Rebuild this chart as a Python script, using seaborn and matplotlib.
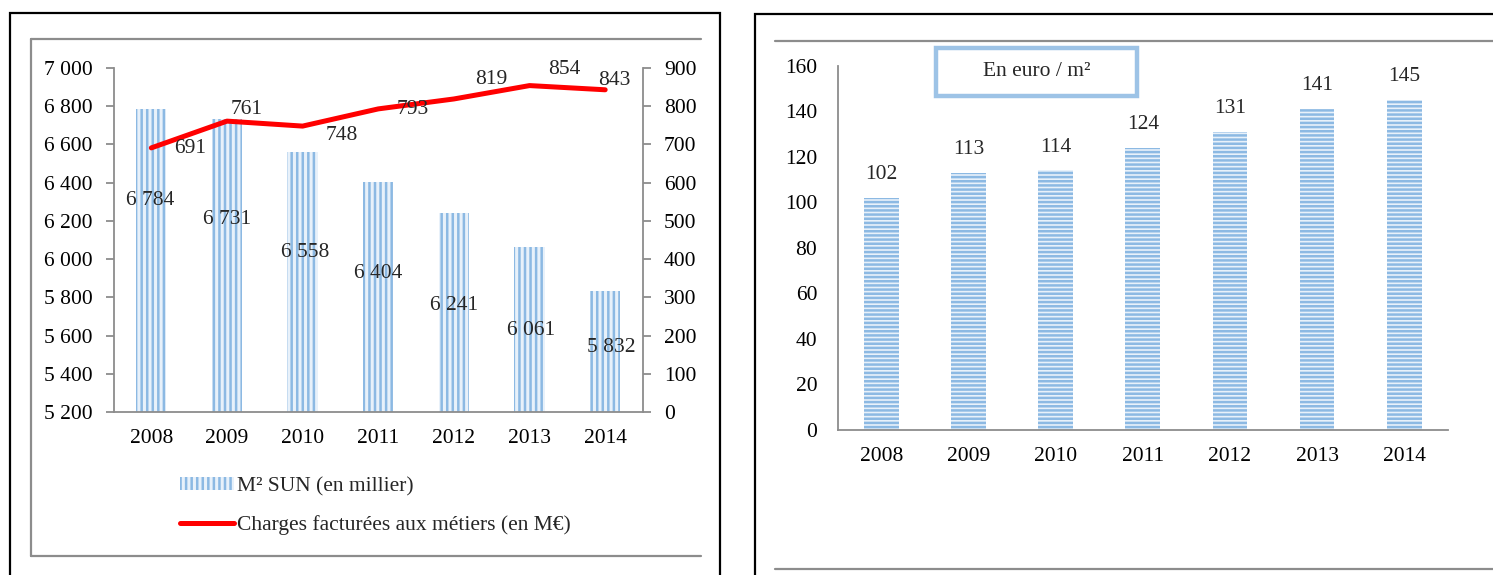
import numpy as np
import matplotlib
matplotlib.use("Agg")
import matplotlib.pyplot as plt
from matplotlib.lines import Line2D
from matplotlib.patches import Rectangle
import seaborn as sns

# ---- data ----
years = ["2008", "2009", "2010", "2011", "2012", "2013", "2014"]
surface_k_m2 = [6784, 6731, 6558, 6404, 6241, 6061, 5832]      # M² SUN (en millier)
charges_meur = [691, 761, 748, 793, 819, 854, 843]             # Charges facturées (en M€)
cost_per_m2 = [102, 113, 114, 124, 131, 141, 145]              # En euro / m²

left_ticks = [5200, 5400, 5600, 5800, 6000, 6200, 6400, 6600, 6800, 7000]
right_ticks = [0, 100, 200, 300, 400, 500, 600, 700, 800, 900]
cost_ticks = [0, 20, 40, 60, 80, 100, 120, 140, 160]

# label placement (pixel offsets from each mark)
bar_label_offsets = [(-1, -91), (0, -100), (3, -100), (0, -92), (0, -92), (2, -83), (6, -56)]
line_label_offsets = [(39, -1), (20, 12), (39, -9), (34, -1), (37, 19), (35, 16), (9, 9)]

W, H = 1493, 575
STRIPE = "#8CB9E3"
FACE = "#E8F1FA"
BOX = "#9DC3E6"
SPINE = "#8C8C8C"
FS = 15.5

sns.set_style("white")
plt.rcParams["font.family"] = ["Liberation Serif", "DejaVu Serif"]
plt.rcParams["hatch.linewidth"] = 1.8
plt.rcParams["hatch.color"] = STRIPE


def fx(px):
    return px / W


def fy(py):
    return 1 - py / H


def fmt_fr(v):
    return f"{v:,}".replace(",", " ")


fig = plt.figure(figsize=(W / 100, H / 100), dpi=100)

# ---- panel frames ----
fig.add_artist(Rectangle((fx(10), fy(590)), fx(720) - fx(10), fy(13) - fy(590),
                         transform=fig.transFigure, fill=False, ec="black", lw=1.6))
fig.add_artist(Line2D([fx(31), fx(31)], [fy(39), fy(556)], transform=fig.transFigure, color=SPINE, lw=1.6))
fig.add_artist(Line2D([fx(31), fx(701)], [fy(39), fy(39)], transform=fig.transFigure, color=SPINE, lw=1.6))
fig.add_artist(Line2D([fx(31), fx(701)], [fy(556), fy(556)], transform=fig.transFigure, color=SPINE, lw=1.6))

fig.add_artist(Rectangle((fx(755), fy(590)), fx(1510) - fx(755), fy(14) - fy(590),
                         transform=fig.transFigure, fill=False, ec="black", lw=1.6))
fig.add_artist(Line2D([fx(775), fx(1493)], [fy(41), fy(41)], transform=fig.transFigure, color=SPINE, lw=1.6))
fig.add_artist(Line2D([fx(775), fx(1493)], [fy(569), fy(569)], transform=fig.transFigure, color=SPINE, lw=1.6))


def style_axis(ax):
    for s in ax.spines.values():
        s.set_color(SPINE)
        s.set_linewidth(1.3)
    ax.set_xlim(-0.5, len(years) - 0.5)
    ax.set_xticks(range(len(years)))
    ax.set_xticklabels(years)
    ax.set_xticks(np.arange(-0.5, len(years), 1.0), minor=True)
    ax.tick_params(axis="x", which="major", length=0, pad=12, labelsize=FS, colors="black")
    ax.tick_params(axis="x", which="minor", length=6, width=1.3, color=SPINE, direction="out")
    ax.tick_params(axis="y", length=6, width=1.3, color=SPINE, direction="out",
                   pad=9, labelsize=FS, labelcolor="black")
    ax.set_xlabel("")
    ax.set_ylabel("")


# ---- left chart: surface bars + charges line ----
ax1 = fig.add_axes([fx(113.5), fy(412), fx(643) - fx(113.5), fy(68) - fy(412)])
sns.barplot(x=years, y=surface_k_m2, ax=ax1, width=0.4, color=FACE, saturation=1)
for p in ax1.patches:
    p.set_facecolor(FACE)
    p.set_edgecolor(STRIPE)
    p.set_linewidth(0)
    p.set_hatch("|||")
ax1.set_ylim(5200, 7000)
ax1.set_yticks(left_ticks)
ax1.set_yticklabels([fmt_fr(v) for v in left_ticks])
style_axis(ax1)
sns.despine(ax=ax1, top=True, right=True)

ax2 = ax1.twinx()
sns.lineplot(x=np.arange(len(years)), y=charges_meur, ax=ax2, color="#FF0000",
             linewidth=3.6, solid_capstyle="round")
ax2.set_ylim(0, 900)
ax2.set_yticks(right_ticks)
ax2.set_yticklabels([str(v) for v in right_ticks])
for s in ax2.spines.values():
    s.set_visible(False)
ax2.spines["right"].set_visible(True)
ax2.spines["right"].set_color(SPINE)
ax2.spines["right"].set_linewidth(1.3)
ax2.tick_params(axis="y", length=6, width=1.3, color=SPINE, direction="out",
                pad=9, labelsize=FS, labelcolor="black")
ax2.set_ylabel("")
ax2.set_xlim(-0.5, len(years) - 0.5)

for i, v in enumerate(surface_k_m2):
    dx, dy = bar_label_offsets[i]
    ax1.annotate(fmt_fr(v), (i, v), xytext=(dx, dy), textcoords="offset pixels",
                 ha="center", va="center", fontsize=FS, zorder=5)
for i, v in enumerate(charges_meur):
    dx, dy = line_label_offsets[i]
    ax2.annotate(str(v), (i, v), xytext=(dx, dy), textcoords="offset pixels",
                 ha="center", va="center", fontsize=FS, zorder=5)

bar_handle = Rectangle((0, 0), 1, 1, facecolor=FACE, edgecolor=STRIPE, lw=0, hatch="|||")
line_handle = Line2D([], [], color="#FF0000", lw=3.6, solid_capstyle="round")
fig.legend([bar_handle, line_handle],
           ["M² SUN (en millier)", "Charges facturées aux métiers (en M€)"],
           loc="center left", bbox_to_anchor=(fx(180), fy(506)), frameon=False,
           fontsize=FS, handlelength=2.5, handleheight=0.55, handletextpad=0.15,
           labelspacing=0.85, borderpad=0, borderaxespad=0)

# ---- right chart: cost per m² ----
ax3 = fig.add_axes([fx(838), fy(430), fx(1447.7) - fx(838), fy(65.5) - fy(430)])
sns.barplot(x=years, y=cost_per_m2, ax=ax3, width=0.4, color=FACE, saturation=1)
for p in ax3.patches:
    p.set_facecolor(FACE)
    p.set_edgecolor(STRIPE)
    p.set_linewidth(0)
    p.set_hatch("----")
ax3.set_ylim(0, 160)
ax3.set_yticks(cost_ticks)
ax3.set_yticklabels([str(v) for v in cost_ticks])
style_axis(ax3)
sns.despine(ax=ax3, top=True, right=True)
for i, v in enumerate(cost_per_m2):
    ax3.annotate(str(v), (i, v), xytext=(0, 23), textcoords="offset pixels",
                 ha="center", va="center", fontsize=FS)

fig.add_artist(Rectangle((fx(936), fy(96)), fx(1137) - fx(936), fy(48) - fy(96),
                         transform=fig.transFigure, fill=False, ec=BOX, lw=3.2))
fig.text(fx(1036.5), fy(72), "En euro / m²", ha="center", va="center", fontsize=FS)

fig.savefig("out.png", dpi=100)
